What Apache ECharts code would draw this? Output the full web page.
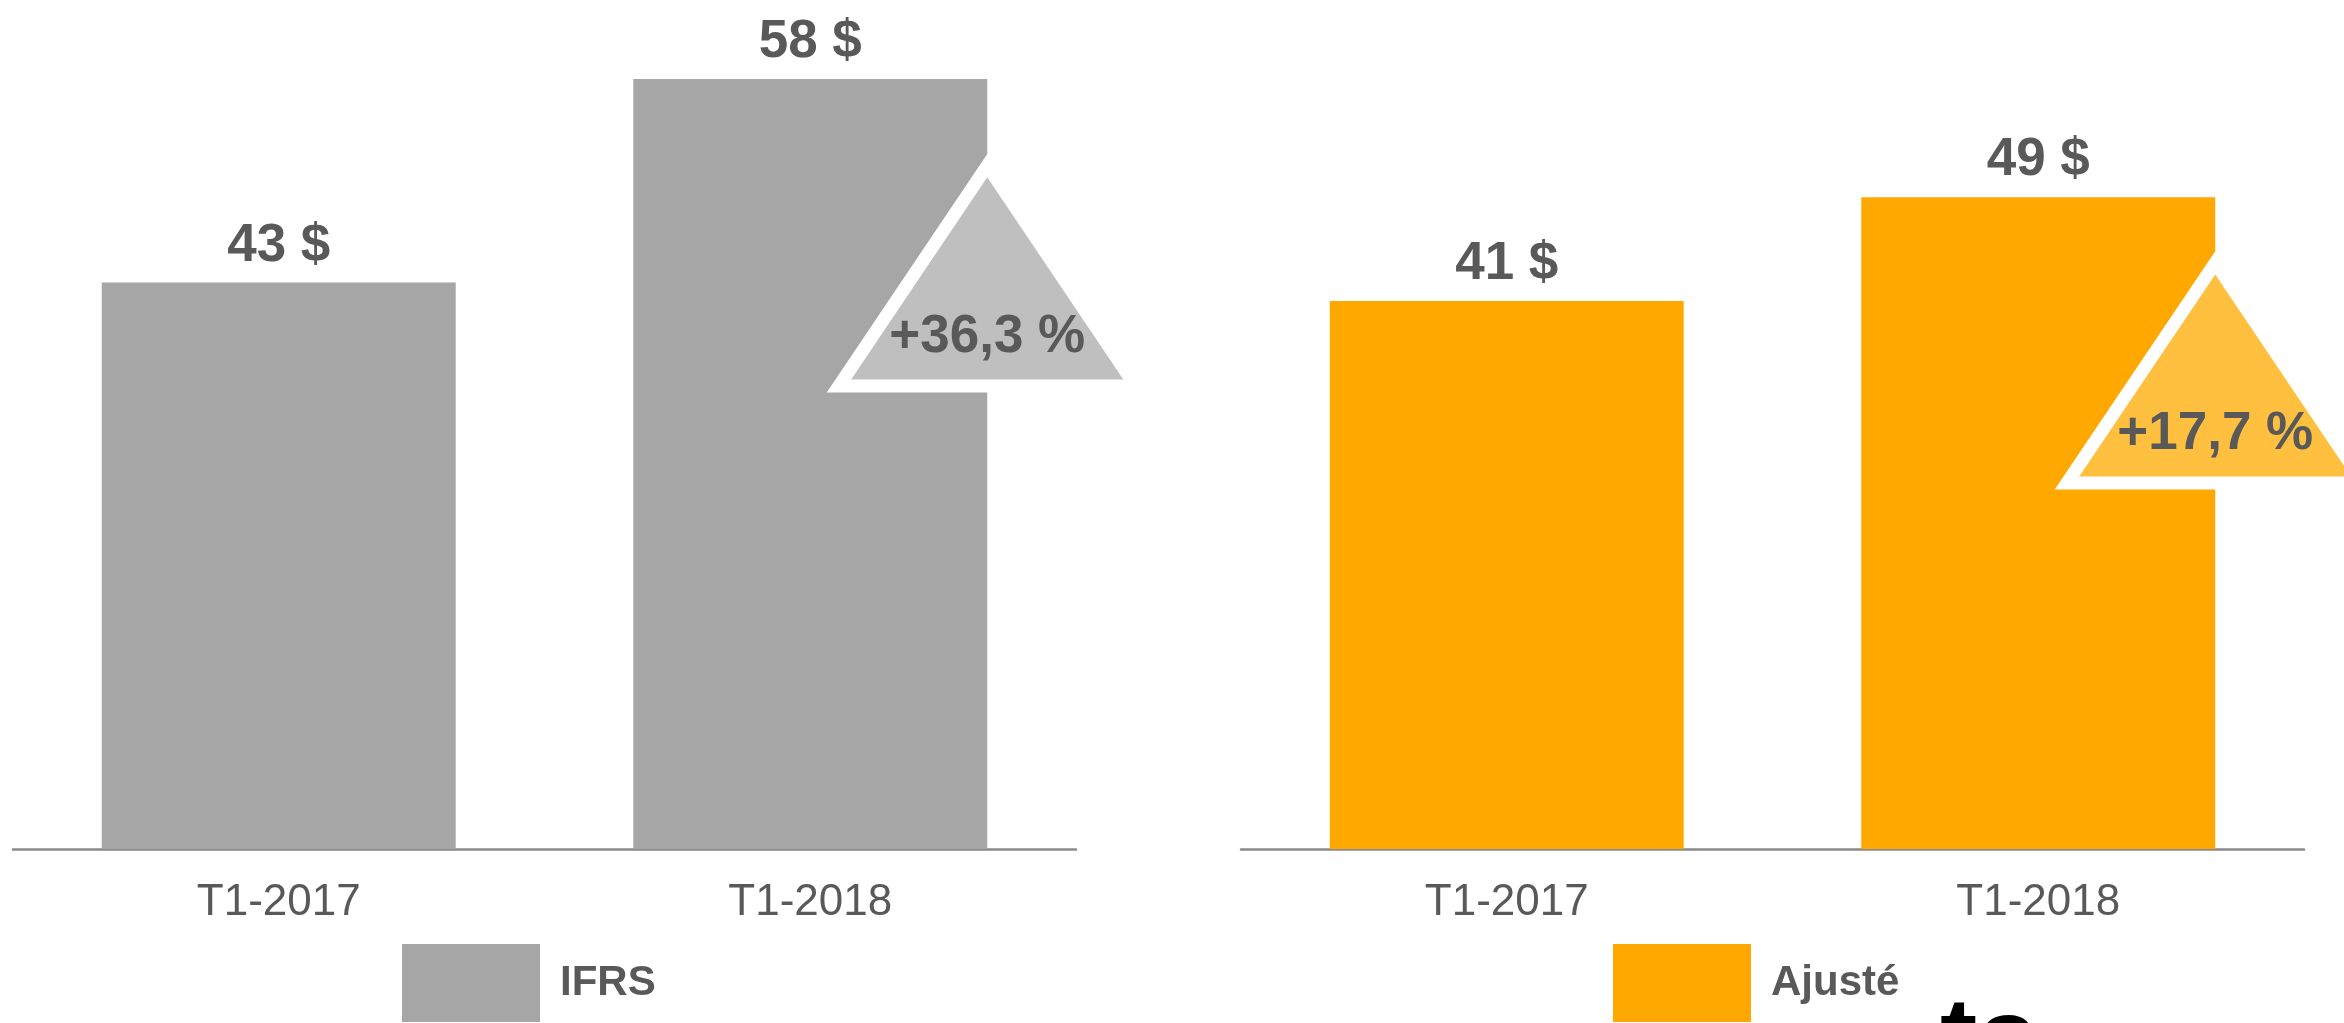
<!DOCTYPE html>
<html>
<head>
<meta charset="utf-8">
<script src="https://cdn.jsdelivr.net/npm/echarts@6/dist/echarts.min.js"></script>
<style>
html,body{margin:0;padding:0;background:#fff;}
#main{width:2344px;height:1023px;}
</style>
</head>
<body>
<div id="main"></div>
<script>
// ---- data ----
const categories = ['T1-2017', 'T1-2018'];
const ifrsValues = [42.6, 57.9];
const ajusteValues = [41.2, 49.0];
const seriesNames = ['IFRS', 'Ajusté'];
const changeLabels = ['+36,3 %', '+17,7 %'];
const changeCategoryIndex = [1, 1];

// ---- layout / style (not data) ----
const FONT = '"Liberation Sans", Arial, sans-serif';
const TEXT_COLOR = '#595959';
const BAR_FRAC = 0.666;
const TRI = [
  { apex: 50.5, base: 35.3, fill: '#BFBFBF' },
  { apex: 43.2, base: 28.0, fill: '#FFC040' }
];

function triRender(cfg, label) {
  return function (params, api) {
    const idx = api.value(0);
    const a = api.coord([idx, cfg.apex]);
    const b = api.coord([idx, cfg.base]);
    const band = api.size([1, 0])[0];
    const x = a[0] + band * BAR_FRAC / 2;
    const h = b[1] - a[1];
    const ratio = 136 / 202;
    const hw = h * ratio;
    const border = 13;
    const sinT = ratio / Math.sqrt(1 + ratio * ratio);
    const oa = a[1] - border / sinT;
    const ob = b[1] + border;
    const ohw = (ob - oa) * ratio;
    return {
      type: 'group',
      children: [
        { type: 'polygon', shape: { points: [[x, oa], [x - ohw, ob], [x + ohw, ob]] }, style: { fill: '#ffffff' } },
        { type: 'polygon', shape: { points: [[x, a[1]], [x - hw, b[1]], [x + hw, b[1]]] }, style: { fill: cfg.fill } },
        { type: 'text', style: { text: label, x: x, y: b[1] - 42, align: 'center', verticalAlign: 'middle',
          font: 'bold 53px ' + FONT, fill: TEXT_COLOR } }
      ]
    };
  };
}

const chart = echarts.init(document.getElementById('main'), null, { renderer: 'canvas' });

const gridCommon = { top: 51, bottom: 174, containLabel: false };
const xAxisCommon = {
  type: 'category',
  data: categories,
  axisLine: { show: true, lineStyle: { color: '#8A8A8A', width: 2.5 } },
  axisTick: { show: false },
  axisLabel: { color: TEXT_COLOR, fontSize: 44, fontFamily: FONT, margin: 32 },
  splitLine: { show: false }
};
const yAxisCommon = { type: 'value', min: 0, max: 60, show: false, splitLine: { show: false } };

const barLabel = {
  show: true, position: 'top', distance: 10,
  formatter: p => Math.round(p.value) + ' $',
  color: TEXT_COLOR, fontSize: 53, fontWeight: 'bold', fontFamily: FONT
};

const legendCommon = {
  orient: 'horizontal', top: 944, padding: 0, itemWidth: 138, itemHeight: 78, icon: 'rect',
  selectedMode: false,
  textStyle: { color: TEXT_COLOR, fontSize: 42, fontWeight: 'bold', fontFamily: FONT, padding: [0, 0, 0, 15] }
};

chart.setOption({
  animation: false,
  backgroundColor: '#ffffff',
  grid: [
    Object.assign({ left: 13, width: 1063 }, gridCommon),
    Object.assign({ left: 1241, width: 1063 }, gridCommon)
  ],
  xAxis: [
    Object.assign({ gridIndex: 0 }, xAxisCommon),
    Object.assign({ gridIndex: 1 }, xAxisCommon)
  ],
  yAxis: [
    Object.assign({ gridIndex: 0 }, yAxisCommon),
    Object.assign({ gridIndex: 1 }, yAxisCommon)
  ],
  legend: [
    Object.assign({ left: 402, data: [seriesNames[0]] }, legendCommon),
    Object.assign({ left: 1613, data: [seriesNames[1]] }, legendCommon)
  ],
  graphic: [
    { type: 'text', left: 1940, top: 988, z: 100,
      style: { text: 'ta', font: 'bold 112px ' + FONT, fill: '#000000' } }
  ],
  series: [
    { name: seriesNames[0], type: 'bar', xAxisIndex: 0, yAxisIndex: 0, data: ifrsValues,
      barWidth: (BAR_FRAC * 100) + '%', itemStyle: { color: '#A6A6A6' }, label: barLabel, z: 2 },
    { name: seriesNames[1], type: 'bar', xAxisIndex: 1, yAxisIndex: 1, data: ajusteValues,
      barWidth: (BAR_FRAC * 100) + '%', itemStyle: { color: '#FFA800' }, label: barLabel, z: 2 },
    { type: 'custom', xAxisIndex: 0, yAxisIndex: 0, z: 5, clip: false,
      data: [[changeCategoryIndex[0]]], renderItem: triRender(TRI[0], changeLabels[0]) },
    { type: 'custom', xAxisIndex: 1, yAxisIndex: 1, z: 5, clip: false,
      data: [[changeCategoryIndex[1]]], renderItem: triRender(TRI[1], changeLabels[1]) }
  ]
});
</script>
</body>
</html>
